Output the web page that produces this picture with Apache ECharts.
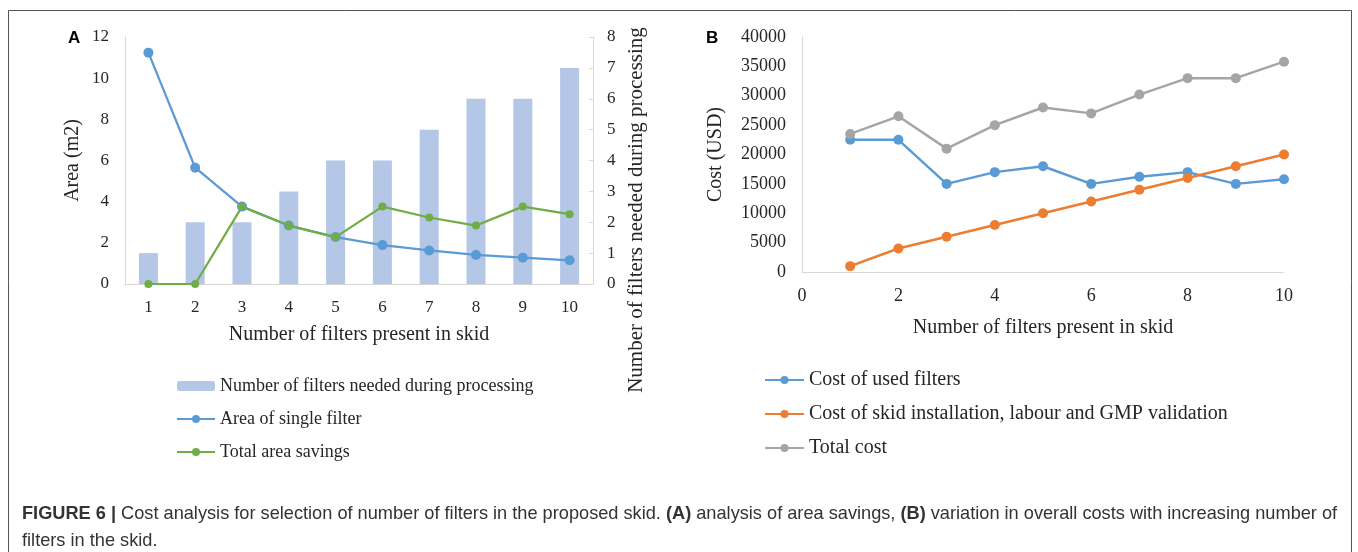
<!DOCTYPE html>
<html>
<head>
<meta charset="utf-8">
<script src="https://cdn.jsdelivr.net/npm/echarts@6/dist/echarts.min.js"></script>
<style>
  html, body { margin: 0; background: #fff; }
  #chart { width: 1358px; height: 552px; }
</style>
</head>
<body>
<div id="chart"></div>
<script>
// panel A
const filterCounts = ['1', '2', '3', '4', '5', '6', '7', '8', '9', '10'];
const filtersNeeded = [1, 2, 2, 3, 4, 4, 5, 6, 6, 7];
const singleFilterArea = [11.24, 5.65, 3.76, 2.84, 2.28, 1.89, 1.63, 1.41, 1.28, 1.15];
const totalAreaSavings = [0, 0, 3.76, 2.84, 2.28, 3.76, 3.23, 2.84, 3.76, 3.39];

// panel B
const skidSizes = [1, 2, 3, 4, 5, 6, 7, 8, 9, 10];
const usedFilterCost = [22500, 22500, 15000, 17000, 18000, 15000, 16200, 17000, 15000, 15800];
const installCost = [1000, 4000, 6000, 8000, 10000, 12000, 14000, 16000, 18000, 20000];
const totalCost = [23500, 26500, 21000, 25000, 28000, 27000, 30200, 33000, 33000, 35800];

const serif = '"Liberation Serif", "Times New Roman", serif';
const sans = '"Liberation Sans", Arial, sans-serif';
const axisGrey = '#d9d9d9';
const txt = '#262626';

const pairs = (vals) => skidSizes.map((x, i) => [x, vals[i]]);

const tickA = { fontFamily: serif, fontSize: 17, color: txt };
const tickB = { fontFamily: serif, fontSize: 18, color: txt };
const nameA = { fontFamily: serif, fontSize: 20, color: txt };
const nameB = { fontFamily: serif, fontSize: 20, color: txt };

const option = {
  animation: false,
  backgroundColor: '#fff',
  grid: [
    { left: 125, right: 765, top: 37, bottom: 268 },
    { left: 802, right: 74, top: 37, bottom: 280 }
  ],
  legend: [
    {
      orient: 'vertical', left: 171, top: 372, itemGap: 15,
      itemWidth: 38, itemHeight: 10,
      textStyle: { fontFamily: serif, fontSize: 18, color: txt },
      data: ['Number of filters needed during processing', 'Area of single filter', 'Total area savings']
    },
    {
      orient: 'vertical', left: 759, top: 365, itemGap: 14,
      itemWidth: 39, itemHeight: 10,
      textStyle: { fontFamily: serif, fontSize: 20, color: txt },
      data: ['Cost of used filters', 'Cost of skid installation, labour and GMP validation', 'Total cost']
    }
  ],
  xAxis: [
    {
      type: 'category', gridIndex: 0, data: filterCounts,
      name: 'Number of filters present in skid', nameLocation: 'middle', nameGap: 41,
      nameTextStyle: nameA,
      axisLine: { lineStyle: { color: axisGrey } },
      axisTick: { show: false },
      axisLabel: Object.assign({ margin: 15 }, tickA)
    },
    {
      type: 'value', gridIndex: 1, min: 0, max: 10, interval: 2,
      name: 'Number of filters present in skid', nameLocation: 'middle', nameGap: 46,
      nameTextStyle: nameB,
      axisLine: { show: true, lineStyle: { color: axisGrey } },
      axisTick: { show: false },
      splitLine: { show: false },
      axisLabel: Object.assign({ margin: 15 }, tickB)
    }
  ],
  yAxis: [
    {
      type: 'value', gridIndex: 0, min: 0, max: 12, interval: 2,
      name: 'Area (m2)', nameLocation: 'middle', nameGap: 42,
      nameTextStyle: nameA,
      axisLine: { show: true, lineStyle: { color: axisGrey } },
      axisTick: { show: false },
      splitLine: { show: false },
      axisLabel: Object.assign({ margin: 16 }, tickA)
    },
    {
      type: 'value', gridIndex: 0, position: 'right', min: 0, max: 8, interval: 1,
      axisLine: { show: true, lineStyle: { color: axisGrey } },
      axisTick: { show: true, inside: true, length: 4, lineStyle: { color: axisGrey } },
      splitLine: { show: false },
      axisLabel: Object.assign({ margin: 14 }, tickA)
    },
    {
      type: 'value', gridIndex: 1, min: 0, max: 40000, interval: 5000,
      name: 'Cost (USD)', nameLocation: 'middle', nameGap: 76,
      nameTextStyle: nameB,
      axisLine: { show: true, lineStyle: { color: axisGrey } },
      axisTick: { show: false },
      splitLine: { show: false },
      axisLabel: Object.assign({ margin: 16, formatter: (v) => String(v) }, tickB)
    }
  ],
  series: [
    {
      name: 'Number of filters needed during processing', type: 'bar',
      xAxisIndex: 0, yAxisIndex: 1, data: filtersNeeded, barWidth: 19,
      itemStyle: { color: '#b4c7e7' }
    },
    {
      name: 'Area of single filter', type: 'line', xAxisIndex: 0, yAxisIndex: 0,
      data: singleFilterArea, symbol: 'circle', symbolSize: 10,
      itemStyle: { color: '#5b9bd5' }, lineStyle: { width: 2.25, color: '#5b9bd5' }
    },
    {
      name: 'Total area savings', type: 'line', xAxisIndex: 0, yAxisIndex: 0,
      data: totalAreaSavings, symbol: 'circle', symbolSize: 8,
      itemStyle: { color: '#70ad47' }, lineStyle: { width: 2.25, color: '#70ad47' }
    },
    {
      name: 'Cost of used filters', type: 'line', xAxisIndex: 1, yAxisIndex: 2,
      data: pairs(usedFilterCost), symbol: 'circle', symbolSize: 10,
      itemStyle: { color: '#5b9bd5' }, lineStyle: { width: 2.5, color: '#5b9bd5' }
    },
    {
      name: 'Cost of skid installation, labour and GMP validation', type: 'line', xAxisIndex: 1, yAxisIndex: 2,
      data: pairs(installCost), symbol: 'circle', symbolSize: 10,
      itemStyle: { color: '#ed7d31' }, lineStyle: { width: 2.5, color: '#ed7d31' }
    },
    {
      name: 'Total cost', type: 'line', xAxisIndex: 1, yAxisIndex: 2,
      data: pairs(totalCost), symbol: 'circle', symbolSize: 10,
      itemStyle: { color: '#a5a5a5' }, lineStyle: { width: 2.5, color: '#a5a5a5' }
    }
  ],
  graphic: [
    {
      type: 'polyline', silent: true,
      shape: { points: [[8.5, 552], [8.5, 10.5], [1351.5, 10.5], [1351.5, 552]] },
      style: { stroke: '#555', lineWidth: 1, fill: null }
    },
    {
      type: 'text', left: 68, top: 30,
      style: { text: 'A', font: 'bold 17px ' + sans, fill: '#000' }
    },
    {
      type: 'text', left: 706, top: 30,
      style: { text: 'B', font: 'bold 17px ' + sans, fill: '#000' }
    },
    {
      type: 'text', x: 636, y: 210, rotation: Math.PI / 2,
      style: {
        text: 'Number of filters needed during processing',
        font: '21px ' + serif, fill: txt, align: 'center', verticalAlign: 'middle'
      }
    },
    {
      type: 'text', left: 22, top: 505,
      style: {
        text: '{b|FIGURE 6 |} Cost analysis for selection of number of filters in the proposed skid. {b|(A)} analysis of area savings, {b|(B)} variation in overall costs with increasing number of',
        font: '18.2px ' + sans, fill: '#333',
        rich: { b: { font: 'bold 18.2px ' + sans, fill: '#333' } }
      }
    },
    {
      type: 'text', left: 22, top: 532,
      style: { text: 'filters in the skid.', font: '18.2px ' + sans, fill: '#333' }
    }
  ]
};

const chart = echarts.init(document.getElementById('chart'));
chart.setOption(option);
</script>
</body>
</html>
